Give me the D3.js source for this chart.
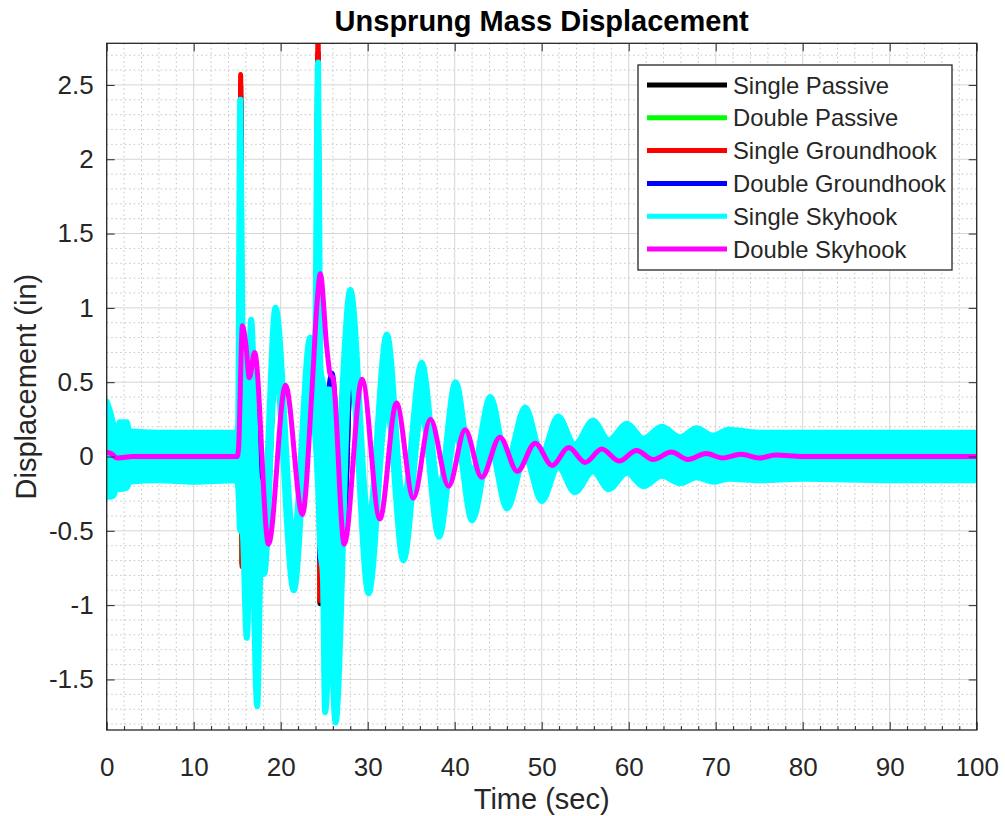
<!DOCTYPE html>
<html>
<head>
<meta charset="utf-8">
<title>Unsprung Mass Displacement</title>
<script src="https://cdn.jsdelivr.net/npm/d3@7/dist/d3.min.js"></script>
<style>
  body { margin: 0; background: #fff; }
  svg text { font-family: "Liberation Sans", Arial, sans-serif; fill: #262626; }
</style>
</head>
<body>
<svg id="chart" width="1005" height="816"></svg>
<script>
// values
var xTicks = [0, 10, 20, 30, 40, 50, 60, 70, 80, 90, 100];
var yTicks = [-1.5, -1, -0.5, 0, 0.5, 1, 1.5, 2, 2.5];
var seriesNames = ["Single Passive", "Double Passive", "Single Groundhook", "Double Groundhook", "Single Skyhook", "Double Skyhook"];
var seriesColors = ["#000000", "#00ff00", "#ff0000", "#0000ff", "#00ffff", "#ff00ff"];

// passive / groundhook runs (mostly hidden under the skyhook traces)
var baseTime = [0, 1, 15.0, 15.25, 15.4, 15.55, 15.8, 16.5, 17.1, 18.2, 19.4, 21.5, 23.4, 24.0, 24.3, 24.5, 25.3, 25.9, 27.2, 28.1,
  30.1, 32.3, 34.2, 36.2, 38.2, 40.1, 42.0, 44.1, 46.0, 48.1, 50.0, 52.0, 54.0, 56.0, 58.0, 60.0, 62.0, 66.0, 70.0, 100];
var singlePassive = [0.02, 0, 0, 0.4, 2.50, -0.72, 0.6, 0.45, 0.5, -0.6, 0.6, -0.55, 0.55, 0.5, 2.72, -0.99, 0.3, 0.5, -0.55, 0.62,
  -0.45, 0.35, -0.35, 0.3, -0.28, 0.22, -0.2, 0.17, -0.15, 0.13, -0.11, 0.09, -0.08, 0.06, -0.05, 0.04, -0.03, 0.02, 0, 0];
var doublePassive = [0.02, 0, 0, 0.4, 2.45, -0.70, 0.6, 0.45, 0.5, -0.6, 0.58, -0.55, 0.55, 0.5, 2.65, -0.95, 0.3, 0.48, -0.55, 0.6,
  -0.45, 0.34, -0.34, 0.3, -0.27, 0.22, -0.2, 0.17, -0.15, 0.13, -0.11, 0.09, -0.08, 0.06, -0.05, 0.04, -0.03, 0.02, 0, 0];
var singleGround = [0.02, 0, 0, 0.4, 2.57, -0.74, 0.6, 0.45, 0.5, -0.6, 0.6, -0.55, 0.55, 0.5, 2.86, -0.97, 0.3, 0.44, -0.55, 0.62,
  -0.45, 0.35, -0.35, 0.3, -0.28, 0.22, -0.2, 0.17, -0.15, 0.13, -0.11, 0.09, -0.08, 0.06, -0.05, 0.04, -0.03, 0.02, 0, 0];
var doubleGround = [0.02, 0, 0, 0.4, 2.40, -0.50, 0.6, 0.45, 0.5, -0.6, 0.58, -0.55, 0.55, 0.5, 2.60, -0.70, 0.3, 0.56, -0.55, 0.6,
  -0.45, 0.34, -0.34, 0.3, -0.27, 0.22, -0.2, 0.17, -0.15, 0.13, -0.11, 0.09, -0.08, 0.06, -0.05, 0.04, -0.03, 0.02, 0, 0];

// single skyhook: fast oscillation, kept as its upper / lower envelope
var skyTime = [0.0, 0.4, 0.8, 1.2, 1.5, 2.3, 2.6, 6.0, 10.0, 14.9, 15.1, 15.35, 15.6, 16.1, 16.6, 17.3, 17.7, 18.1, 19.4, 21.5,
  23.4, 23.9, 24.3, 24.55, 24.85, 25.1, 25.7, 26.3, 28.0, 30.1, 32.2, 34.1, 36.2, 38.2, 40.1, 42.0, 44.1, 46.0, 48.1, 50.0, 51.9,
  53.8, 55.9, 57.7, 59.8, 61.7, 63.8, 65.9, 67.8, 69.7, 71.5, 75.0, 80.0, 90.0, 100.0];
var skyHigh = [0.37, 0.30, 0.21, 0.17, 0.23, 0.23, 0.17, 0.16, 0.16, 0.16, 0.20, 2.40, 0.85, -0.10, 0.92, -0.15, -0.20, -0.30, 1.00, -0.55,
  0.80, 0.50, 2.65, 0.60, 0.50, 0.45, 0.45, -0.10, 1.12, -0.43, 0.82, -0.30, 0.63, -0.22, 0.50, -0.11, 0.40, -0.03, 0.33, 0.02, 0.27,
  0.08, 0.24, 0.11, 0.22, 0.12, 0.20, 0.13, 0.19, 0.14, 0.18, 0.16, 0.16, 0.16, 0.16];
var skyLow = [-0.27, -0.27, -0.26, -0.19, -0.22, -0.21, -0.17, -0.16, -0.17, -0.16, -0.20, -0.50, -0.50, -1.22, -0.35, -1.68, -0.75, -0.79, 0.58, -0.90,
  0.45, 0.20, -0.20, -0.62, -0.80, -1.72, -1.20, -1.79, 0.62, -0.92, 0.33, -0.70, 0.29, -0.54, 0.16, -0.43, 0.06, -0.35, -0.01, -0.30, -0.07,
  -0.24, -0.10, -0.22, -0.11, -0.20, -0.13, -0.18, -0.14, -0.17, -0.15, -0.16, -0.15, -0.16, -0.16];

// double skyhook
var dblSkyTime = [0, 0.5, 1.2, 3, 8, 15.0, 15.15, 15.6, 16.0, 16.4, 17.0, 18.6, 20.55, 22.5, 23.6, 24.2, 24.55, 25.3, 25.7, 26.0,
  27.3, 29.35, 31.4, 33.3, 35.25, 37.2, 39.3, 41.2, 43.1, 45.2, 47.2, 49.25, 51.2, 53.1, 55.0, 56.9, 58.9, 60.9, 62.8, 64.9,
  66.8, 68.9, 70.8, 72.9, 75.0, 76.9, 80, 100];
var dblSky = [0.03, 0.02, -0.01, 0.0, 0.0, 0.0, 0.05, 0.88, 0.75, 0.53, 0.70, -0.59, 0.48, -0.39, 0.45, 1.05, 1.23, 0.73, 0.55, 0.53,
  -0.59, 0.52, -0.42, 0.36, -0.28, 0.25, -0.20, 0.18, -0.14, 0.13, -0.10, 0.09, -0.06, 0.06, -0.04, 0.05, -0.03, 0.04, -0.02, 0.03,
  -0.02, 0.02, -0.01, 0.015, -0.01, 0.01, 0, 0];

var svg = d3.select("#chart");
var pL = 106.7, pR = 976.7, pT = 43.3, pB = 730;

var x = d3.scaleLinear().domain([0, 100]).range([pL, pR]);
var y = d3.scaleLinear().domain([-1.84, 2.78]).range([pB, pT]);

// grid
var minorX = d3.range(0, 101, 2).filter(function (d) { return d % 10 != 0; });
var minorY = d3.range(-18, 28, 1).map(function (d) { return d / 10; }).filter(function (d) { return Math.abs(d * 2 - Math.round(d * 2)) > 1e-6; });

var grid = svg.append("g");
grid.selectAll(".mx").data(minorX).enter().append("line")
  .attr("x1", x).attr("x2", x).attr("y1", pT).attr("y2", pB)
  .attr("stroke", "#c4c4c4").attr("stroke-width", 1).attr("stroke-dasharray", "1.5,3");
grid.selectAll(".my").data(minorY).enter().append("line")
  .attr("x1", pL).attr("x2", pR).attr("y1", y).attr("y2", y)
  .attr("stroke", "#c4c4c4").attr("stroke-width", 1).attr("stroke-dasharray", "1.5,3");
grid.selectAll(".gx").data(xTicks).enter().append("line")
  .attr("x1", x).attr("x2", x).attr("y1", pT).attr("y2", pB)
  .attr("stroke", "#d6d6d6").attr("stroke-width", 1);
grid.selectAll(".gy").data(yTicks).enter().append("line")
  .attr("x1", pL).attr("x2", pR).attr("y1", y).attr("y2", y)
  .attr("stroke", "#d6d6d6").attr("stroke-width", 1);

svg.append("clipPath").attr("id", "clip")
  .append("rect").attr("x", pL).attr("y", pT).attr("width", pR - pL).attr("height", pB - pT);

var plot = svg.append("g").attr("clip-path", "url(#clip)");

var line = d3.line()
  .x(function (d) { return x(d[0]); })
  .y(function (d) { return y(d[1]); })
  .curve(d3.curveMonotoneX);

function pairs(t, v) { return t.map(function (d, i) { return [d, v[i]]; }); }

[singlePassive, doublePassive, singleGround, doubleGround].forEach(function (vals, i) {
  plot.append("path")
    .datum(pairs(baseTime, vals))
    .attr("d", line)
    .attr("fill", "none")
    .attr("stroke", seriesColors[i])
    .attr("stroke-width", 5)
    .attr("stroke-linejoin", "round");
});

var band = d3.area()
  .x(function (d, i) { return x(skyTime[i]); })
  .y0(function (d, i) { return y(skyLow[i]); })
  .y1(function (d, i) { return y(skyHigh[i]); })
  .curve(d3.curveMonotoneX);

plot.append("path")
  .datum(skyTime)
  .attr("d", band)
  .attr("fill", seriesColors[4])
  .attr("stroke", seriesColors[4])
  .attr("stroke-width", 6)
  .attr("stroke-linejoin", "round");

plot.append("path")
  .datum(pairs(dblSkyTime, dblSky))
  .attr("d", line)
  .attr("fill", "none")
  .attr("stroke", seriesColors[5])
  .attr("stroke-width", 5)
  .attr("stroke-linejoin", "round");

// axes, ticks pointing inward
function styleAxis(g) {
  g.select(".domain").remove();
  g.selectAll(".tick line").attr("stroke", "#262626");
  g.selectAll(".tick text").attr("fill", "#262626").style("font-size", "26px");
}
var fmt = function (d) { return String(d); };

svg.append("g").attr("transform", "translate(0," + pB + ")")
  .call(d3.axisBottom(x).tickValues(minorX).tickSize(-4).tickFormat(""))
  .call(styleAxis);
svg.append("g").attr("transform", "translate(0," + pB + ")")
  .call(d3.axisBottom(x).tickValues(xTicks).tickSize(-8).tickPadding(28).tickFormat(fmt))
  .call(styleAxis);
svg.append("g").attr("transform", "translate(0," + pT + ")")
  .call(d3.axisTop(x).tickValues(xTicks).tickSize(-8).tickFormat(""))
  .call(styleAxis);
svg.append("g").attr("transform", "translate(" + pL + ",0)")
  .call(d3.axisLeft(y).tickValues(yTicks).tickSize(-8).tickPadding(13).tickFormat(fmt))
  .call(styleAxis);
svg.append("g").attr("transform", "translate(" + pR + ",0)")
  .call(d3.axisRight(y).tickValues(yTicks).tickSize(-8).tickFormat(""))
  .call(styleAxis);

svg.append("rect")
  .attr("x", pL).attr("y", pT).attr("width", pR - pL).attr("height", pB - pT)
  .attr("fill", "none").attr("stroke", "#262626").attr("stroke-width", 1.3);

// titles
svg.append("text").attr("x", (pL + pR) / 2).attr("y", 31)
  .attr("text-anchor", "middle").style("font-size", "29px").style("font-weight", "bold")
  .style("fill", "#000").text("Unsprung Mass Displacement");
svg.append("text").attr("x", (pL + pR) / 2).attr("y", 809)
  .attr("text-anchor", "middle").style("font-size", "29px").text("Time (sec)");
svg.append("text").attr("transform", "translate(36," + (pT + pB) / 2 + ") rotate(-90)")
  .attr("text-anchor", "middle").style("font-size", "29px").text("Displacement (in)");

// legend
var lg = svg.append("g");
lg.append("rect").attr("x", 638).attr("y", 65).attr("width", 314).attr("height", 205)
  .attr("fill", "#fff").attr("stroke", "#262626").attr("stroke-width", 1.3);
var rows = lg.selectAll(".row").data(seriesNames).enter().append("g")
  .attr("transform", function (d, i) { return "translate(0," + (85 + i * 32.8) + ")"; });
rows.append("line").attr("x1", 647).attr("x2", 727).attr("y1", 0).attr("y2", 0)
  .attr("stroke", function (d, i) { return seriesColors[i]; }).attr("stroke-width", 5);
rows.append("text").attr("x", 733).attr("y", 8.5).style("font-size", "23.8px").text(function (d) { return d; });
</script>
</body>
</html>
